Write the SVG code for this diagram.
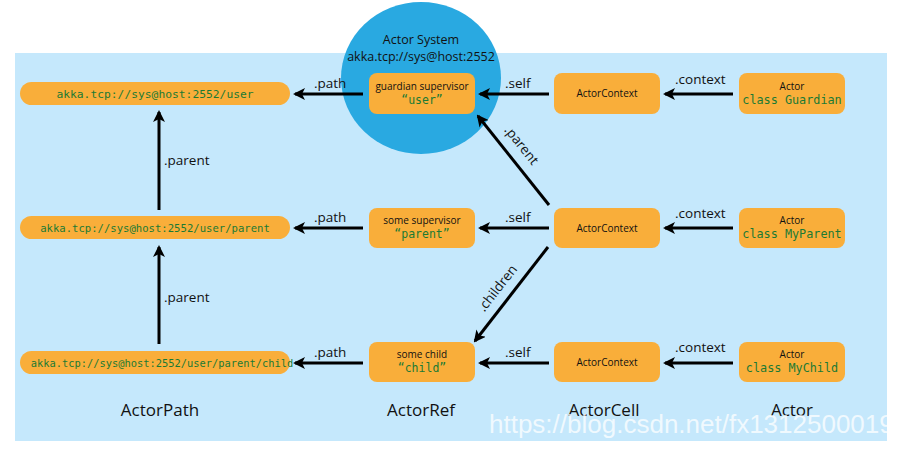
<svg xmlns="http://www.w3.org/2000/svg" width="900" height="450" viewBox="0 0 900 450">
<defs>
<marker id="ah" viewBox="0 0 12 12" refX="10" refY="6" markerWidth="12" markerHeight="12" markerUnits="userSpaceOnUse" orient="auto">
<path d="M0,0 L12,6 L0,12 L3,6 z" fill="#000"/>
</marker>
<clipPath id="bgclip"><rect x="15" y="53" width="872" height="388"/></clipPath>
<style>
.pill{fill:#f9ae3a}
.box{fill:#f9ae3a}
.mono{font-family:"DejaVu Sans Mono","Liberation Mono",monospace;fill:#1b7a34;text-anchor:middle}
.sm{font-family:"Open Sans","DejaVu Sans",sans-serif;font-size:10px;fill:#111;text-anchor:middle}
.lbl{font-family:"Open Sans","DejaVu Sans",sans-serif;font-size:13.5px;fill:#111}
.col{font-family:"Open Sans","DejaVu Sans",sans-serif;font-size:17px;fill:#111;text-anchor:middle}
.edge{stroke:#000;stroke-width:3;fill:none;marker-end:url(#ah)}
</style>
</defs>
<rect x="15" y="53" width="872" height="388" fill="#c5e8fc"/>
<g id="actor-system">
<ellipse cx="421" cy="78" rx="80" ry="76" fill="#29a9e1"/>
<text x="421" y="44" text-anchor="middle" font-family="Open Sans, DejaVu Sans, sans-serif" font-size="12.5" fill="#111">Actor System</text>
<text x="421" y="61" text-anchor="middle" font-family="Open Sans, DejaVu Sans, sans-serif" font-size="12.5" fill="#111">akka.tcp://sys@host:2552</text>
</g>
<g id="path-user"><rect class="pill" x="20" y="82" width="270" height="23" rx="11.5"/><text class="mono" x="155" y="97.5" font-size="11.3">akka.tcp://sys@host:2552/user</text></g>
<g id="path-parent"><rect class="pill" x="20" y="216" width="270" height="23" rx="11.5"/><text class="mono" x="155" y="231.5" font-size="10.6">akka.tcp://sys@host:2552/user/parent</text></g>
<g id="path-child"><rect class="pill" x="20" y="351" width="270" height="23" rx="11.5"/><text class="mono" x="162" y="366.5" font-size="10.4">akka.tcp://sys@host:2552/user/parent/child</text></g>
<g id="ref-user"><rect class="box" x="369" y="73" width="106" height="41" rx="8"/><text class="sm" x="422" y="90">guardian supervisor</text><text class="mono" x="422" y="104" font-size="11.5">“user”</text></g>
<g id="ref-parent"><rect class="box" x="369" y="208" width="106" height="40" rx="8"/><text class="sm" x="422" y="224">some supervisor</text><text class="mono" x="422" y="238" font-size="11.5">“parent”</text></g>
<g id="ref-child"><rect class="box" x="369" y="342" width="106" height="40" rx="8"/><text class="sm" x="422" y="358">some child</text><text class="mono" x="422" y="372" font-size="11.5">“child”</text></g>
<g id="cell-1"><rect class="box" x="554" y="73" width="106" height="41" rx="8"/><text class="sm" x="607" y="97">ActorContext</text></g>
<g id="cell-2"><rect class="box" x="554" y="208" width="106" height="40" rx="8"/><text class="sm" x="607" y="231.5">ActorContext</text></g>
<g id="cell-3"><rect class="box" x="554" y="342" width="106" height="40" rx="8"/><text class="sm" x="607" y="366">ActorContext</text></g>
<g id="actor-guardian"><rect class="box" x="739" y="73" width="106" height="41" rx="8"/><text class="sm" x="792" y="90">Actor</text><text class="mono" x="792" y="104" font-size="11.8">class Guardian</text></g>
<g id="actor-parent"><rect class="box" x="739" y="208" width="106" height="40" rx="8"/><text class="sm" x="792" y="224">Actor</text><text class="mono" x="792" y="238" font-size="11.8">class MyParent</text></g>
<g id="actor-child"><rect class="box" x="739" y="342" width="106" height="40" rx="8"/><text class="sm" x="792" y="358">Actor</text><text class="mono" x="792" y="372" font-size="11.8">class MyChild</text></g>
<g id="connectors">
<line class="edge" x1="363" y1="94" x2="295" y2="94"/>
<line class="edge" x1="363" y1="228" x2="295" y2="228"/>
<line class="edge" x1="363" y1="363" x2="295" y2="363"/>
<line class="edge" x1="549" y1="94" x2="480" y2="94"/>
<line class="edge" x1="549" y1="228" x2="480" y2="228"/>
<line class="edge" x1="549" y1="363" x2="480" y2="363"/>
<line class="edge" x1="733" y1="94" x2="665" y2="94"/>
<line class="edge" x1="733" y1="228" x2="665" y2="228"/>
<line class="edge" x1="733" y1="363" x2="665" y2="363"/>
<line class="edge" x1="159" y1="210" x2="159" y2="112"/>
<line class="edge" x1="159" y1="344" x2="159" y2="247"/>
<line class="edge" x1="549" y1="205" x2="478" y2="116"/>
<line class="edge" x1="548" y1="247" x2="475" y2="341"/>
<text class="lbl" x="314" y="88">.path</text>
<text class="lbl" x="314" y="222">.path</text>
<text class="lbl" x="314" y="357">.path</text>
<text class="lbl" x="505" y="88">.self</text>
<text class="lbl" x="505" y="222">.self</text>
<text class="lbl" x="505" y="357">.self</text>
<text class="lbl" x="675" y="84">.context</text>
<text class="lbl" x="675" y="218">.context</text>
<text class="lbl" x="675" y="352">.context</text>
<text class="lbl" x="164" y="165">.parent</text>
<text class="lbl" x="164" y="302">.parent</text>
<text class="lbl" x="0" y="0" text-anchor="middle" transform="translate(518,148) rotate(51.5)">.parent</text>
<text class="lbl" x="0" y="0" text-anchor="middle" transform="translate(501,291) rotate(-52)">.children</text>
</g>
<g id="columns">
<text class="col" x="160" y="416">ActorPath</text>
<text class="col" x="421" y="416">ActorRef</text>
<text class="col" x="604" y="416">ActorCell</text>
<text class="col" x="792" y="416">Actor</text>
</g>
<text x="489" y="433" clip-path="url(#bgclip)" font-family="Liberation Sans, Arial, sans-serif" font-size="26" fill="#ffffff" fill-opacity="0.75">https://blog.csdn.net/fx1312500019</text>
</svg>
